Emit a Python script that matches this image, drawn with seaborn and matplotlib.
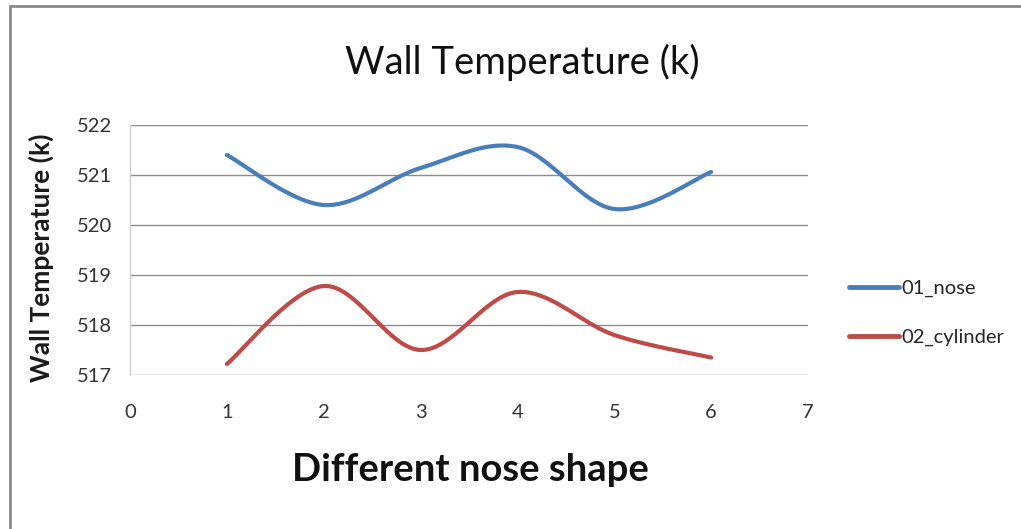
import numpy as np
import pandas as pd
import matplotlib
matplotlib.use("Agg")
import matplotlib.pyplot as plt
import seaborn as sns
from matplotlib.lines import Line2D

# ---- data ----
shapes = [1, 2, 3, 4, 5, 6]
nose = [521.40, 520.40, 521.14, 521.56, 520.32, 521.06]
cylinder = [517.22, 518.78, 517.50, 518.66, 517.80, 517.35]
series_names = ["01_nose", "02_cylinder"]
x_ticks = [0, 1, 2, 3, 4, 5, 6, 7]
y_ticks = [517, 518, 519, 520, 521, 522]
colors = ["#4A7EBB", "#BE4B48"]


def smooth(xs, ys, n=40):
    """Excel-like smoothed line: cubic Bezier with Catmull-Rom control points."""
    xs = np.asarray(xs, float)
    ys = np.asarray(ys, float)
    P = np.column_stack([xs, ys])
    Pe = np.vstack([P[0], P, P[-1]])
    out = []
    t = np.linspace(0, 1, n)[:, None]
    for i in range(len(P) - 1):
        p0, p1, p2, p3 = Pe[i], Pe[i + 1], Pe[i + 2], Pe[i + 3]
        c1 = p1 + (p2 - p0) / 6.0
        c2 = p2 - (p3 - p1) / 6.0
        seg = ((1 - t) ** 3) * p1 + 3 * ((1 - t) ** 2) * t * c1 + 3 * (1 - t) * t ** 2 * c2 + t ** 3 * p2
        out.append(seg if i == 0 else seg[1:])
    out = np.vstack(out)
    return out[:, 0], out[:, 1]


frames = []
for name, vals in zip(series_names, [nose, cylinder]):
    sx, sy = smooth(shapes, vals)
    frames.append(pd.DataFrame({"x": sx, "y": sy, "series": name}))
df = pd.concat(frames, ignore_index=True)

sns.set_theme(style="white")
plt.rcParams["font.family"] = ["Lato", "DejaVu Sans"]

fig = plt.figure(figsize=(10.21, 5.29), dpi=100)
ax = fig.add_axes([130 / 1021, 1 - 375 / 529, (808 - 130) / 1021, (375 - 125) / 529])

sns.lineplot(data=df, x="x", y="y", hue="series", palette=colors, sort=False,
             estimator=None, units="series", ax=ax, linewidth=3.0, legend=False)

ax.set_xlim(0, 7)
ax.set_ylim(517, 522)
ax.set_xticks(x_ticks)
ax.set_yticks(y_ticks)
ax.set_xticklabels([str(v) for v in x_ticks], fontsize=14.5, color="#333333")
ax.set_yticklabels([str(v) for v in y_ticks], fontsize=14.5, color="#333333")
ax.tick_params(axis="x", length=0, pad=21)
ax.tick_params(axis="y", length=0, pad=13)
ax.grid(axis="y", color="#8C8C8C", linewidth=1.0)
ax.set_axisbelow(True)
for s in ["top", "right", "bottom"]:
    ax.spines[s].set_visible(False)
ax.spines["left"].set_color("#D0D0D0")
ax.spines["left"].set_linewidth(1.0)

ax.set_xlabel("")
ax.set_ylabel("Wall Temperature (k)", fontsize=19, fontweight="bold", color="#1A1A1A")
ax.yaxis.set_label_coords((54 - 130) / (808 - 130), (375 - 258) / 250)

fig.text(522 / 1021, 1 - 62 / 529, "Wall Temperature (k)", fontsize=27.5, ha="center",
         va="center", color="#111111")
fig.text(470 / 1021, 1 - 470 / 529, "Different nose shape", fontsize=27.5, fontweight="bold",
         ha="center", va="center", color="#111111")

handles = [Line2D([0], [0], color=c, linewidth=3.5) for c in colors]
fig.legend(handles, series_names, loc="center left",
           bbox_to_anchor=(831 / 1021, 1 - 313 / 529), frameon=False,
           fontsize=14.5, handlelength=2.5, handletextpad=0.1, labelspacing=1.6)

# outer frame (top and left edges visible)
fig.add_artist(Line2D([10 / 1021, 10 / 1021], [0, 1 - 6 / 529], transform=fig.transFigure,
                      color="#8A8A8A", linewidth=2))
fig.add_artist(Line2D([10 / 1021, 1], [1 - 6 / 529, 1 - 6 / 529], transform=fig.transFigure,
                      color="#8A8A8A", linewidth=2))

fig.savefig("out.png", dpi=100, facecolor="white")
